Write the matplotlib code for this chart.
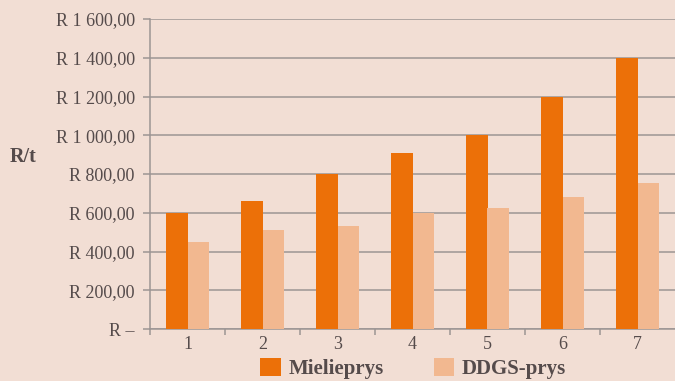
import matplotlib
matplotlib.use("Agg")
import matplotlib.pyplot as plt
from matplotlib.patches import Patch
from matplotlib.ticker import FixedLocator

# Data
categories = [1, 2, 3, 4, 5, 6, 7]
mielie_prys = [600, 660, 800, 910, 1000, 1200, 1400]
ddgs_prys = [450, 510, 530, 600, 625, 680, 755]
y_ticks = [0, 200, 400, 600, 800, 1000, 1200, 1400, 1600]
y_labels = ["R –", "R 200,00", "R 400,00", "R 600,00", "R 800,00",
            "R 1 000,00", "R 1 200,00", "R 1 400,00", "R 1 600,00"]
series_names = ["Mielieprys", "DDGS-prys"]

bg = "#F2DED4"
c_mielie = "#EC7008"
c_ddgs = "#F2B890"
grid_c = "#9C9594"
text_c = "#554B4B"

plt.rcParams["font.family"] = ["Liberation Serif", "DejaVu Serif"]

fig = plt.figure(figsize=(6.75, 3.81), dpi=100, facecolor=bg)
ax = fig.add_axes([150 / 675, 1 - 329 / 381, 1 - 150 / 675, (329 - 19) / 381])
ax.set_facecolor(bg)

w = 0.29
x = list(range(len(categories)))
ax.bar([i - w / 2 for i in x], mielie_prys, width=w, color=c_mielie, zorder=3)
ax.bar([i + w / 2 for i in x], ddgs_prys, width=w, color=c_ddgs, zorder=3)

ax.set_xlim(-0.5, len(categories) - 0.5)
ax.set_ylim(0, 1600)

ax.set_yticks(y_ticks)
ax.set_yticklabels(y_labels, fontsize=13, color=text_c)
ax.yaxis.grid(True, color=grid_c, linewidth=1.1, zorder=1)
ax.tick_params(axis="y", length=5, width=1.1, color=grid_c, pad=6)

ax.set_xticks(x)
ax.set_xticklabels([str(c) for c in categories], fontsize=13, color=text_c)
ax.tick_params(axis="x", which="major", length=0, pad=5)
ax.xaxis.set_minor_locator(FixedLocator([i + 0.5 for i in x[:-1]] + [-0.5]))
ax.tick_params(axis="x", which="minor", length=4, width=1.1, color=grid_c)

for s in ["top", "right"]:
    ax.spines[s].set_visible(False)
for s in ["left", "bottom"]:
    ax.spines[s].set_color(grid_c)
    ax.spines[s].set_linewidth(1.1)
ax.set_axisbelow(True)

fig.text(10 / 675, 1 - 157 / 381, "R/t", fontsize=14.5, fontweight="bold",
         color=text_c, ha="left", va="center")

handles = [Patch(facecolor=c_mielie, edgecolor="none"),
           Patch(facecolor=c_ddgs, edgecolor="none")]
leg = fig.legend(handles, series_names, loc="lower center", ncol=2,
                 bbox_to_anchor=(413 / 675, 2 / 381), frameon=False,
                 borderpad=0, borderaxespad=0,
                 prop={"size": 15, "weight": "bold"},
                 handlelength=1.0, handleheight=1.0, handletextpad=0.35,
                 columnspacing=2.4)
for t in leg.get_texts():
    t.set_color(text_c)

fig.savefig("out.png", dpi=100, facecolor=bg)
